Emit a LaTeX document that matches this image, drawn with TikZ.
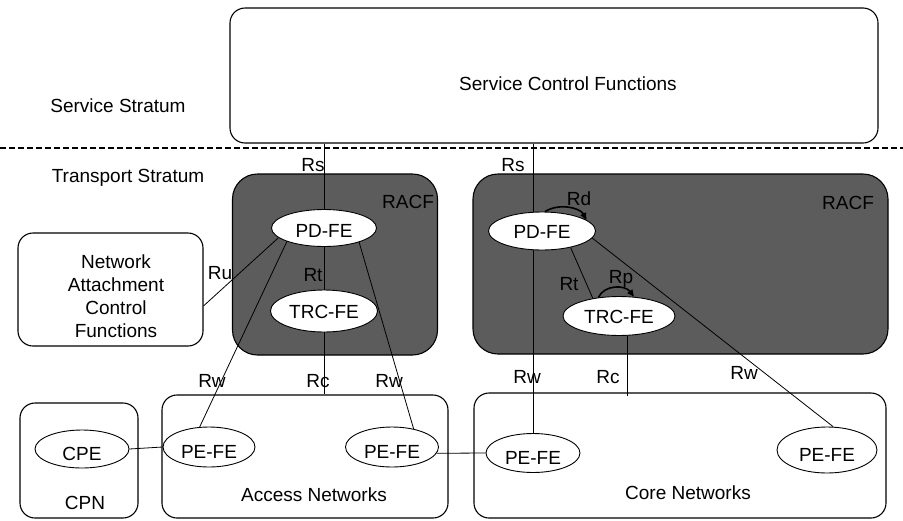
\documentclass[tikz,border=0pt]{standalone}
\usepackage{fontspec}
\setmainfont{Liberation Sans}
\usetikzlibrary{shapes.geometric,arrows.meta,calc}
\pgfdeclarelayer{back}
\pgfdeclarelayer{mid}
\pgfsetlayers{back,mid,main}
\definecolor{racfgray}{RGB}{92,92,92}
\begin{document}
\begin{tikzpicture}[x=1pt,y=-1pt,
  every node/.style={font=\fontsize{19}{23}\selectfont},
  lbl/.style={inner sep=0pt},
  box/.style={draw, line width=1.1pt, rounded corners=15pt, inner sep=0pt},
  racf/.style={draw, line width=1.1pt, fill=racfgray, rounded corners=25pt, inner sep=0pt},
  fe/.style={ellipse, draw, line width=0.9pt, fill=white, inner sep=0pt, text height=14pt, text depth=0pt},
  felow/.style={fe, text height=22pt},
  link/.style={line width=0.8pt},
  reflink/.style={line width=1.6pt, -{Triangle[length=7pt,width=6pt]}},
  stratum/.style={line width=1.8pt, dash pattern=on 6pt off 3pt}]
\useasboundingbox (0,0) rectangle (903,520);

% boxes
\node[box, minimum width=648pt, minimum height=135pt] (scf) at (554,75.5) {};
\node[box, minimum width=185pt, minimum height=113pt] (nacf) at (110.5,289.5) {};
\node[box, minimum width=118pt, minimum height=115pt] (cpn) at (79,460.5) {};
\node[box, minimum width=286pt, minimum height=123pt] (acc) at (305,456.5) {};
\node[box, minimum width=412pt, minimum height=125pt] (core) at (680,455.5) {};
\begin{pgfonlayer}{back}
\node[racf, minimum width=205pt, minimum height=181pt] (racfl) at (335,264.5) {};
\node[racf, minimum width=415pt, minimum height=180pt] (racfr) at (680.5,264) {};
\end{pgfonlayer}

% stratum separator
\coordinate (dl) at (0,148);
\coordinate (dr) at (903,148);
\draw[stratum] (dl) -- (dr);

% functional entities
\node[fe, text height=18pt, minimum width=105pt, minimum height=37pt] (pdl) at (324,228) {PD-FE};
\node[fe, minimum width=107pt, minimum height=42pt] (trcl) at (324,311) {TRC-FE};
\node[fe, minimum width=107pt, minimum height=38pt] (pdr) at (542,231) {PD-FE};
\node[fe, minimum width=112pt, minimum height=39pt] (trcr) at (619,316) {TRC-FE};
\node[felow, minimum width=94pt, minimum height=38pt] (cpe) at (82,449) {CPE};
\node[felow, minimum width=92pt, minimum height=40pt] (pe1) at (209,447) {PE-FE};
\node[felow, minimum width=93pt, minimum height=40pt] (pe2) at (392,447) {PE-FE};
\node[felow, minimum width=94pt, minimum height=39pt] (pe3) at (533,453) {PE-FE};
\node[felow, minimum width=100pt, minimum height=46pt] (pe4) at (827,450) {PE-FE};

% texts
\node[lbl] (lss) at (118,106) {Service Stratum};
\node[lbl] (lts) at (128,178) {Transport Stratum};
\node[lbl] (lscf) at (568,84) {Service Control Functions};
\node[lbl, align=center] (lnacf) at (116,296) {Network\\Attachment\\Control\\Functions};
\node[lbl] (lcpn) at (85,503) {CPN};
\node[lbl] (lacc) at (314,495) {Access Networks};
\node[lbl] (lcore) at (688,493) {Core Networks};
\node[lbl] (lracfl) at (408,202) {RACF};
\node[lbl] (lracfr) at (848,203) {RACF};
\node[lbl] (lrsl) at (313,165) {Rs};
\node[lbl] (lrsr) at (513,165) {Rs};
\node[lbl] (lrtl) at (313,275) {Rt};
\node[lbl] (lrtr) at (569,284) {Rt};
\node[lbl] (lrd) at (579,199) {Rd};
\node[lbl] (lrp) at (621,279) {Rp};
\node[lbl] (lru) at (220,273) {Ru};
\node[lbl] (lrw1) at (212,381) {Rw};
\node[lbl] (lrc1) at (318,381) {Rc};
\node[lbl] (lrw2) at (389,381) {Rw};
\node[lbl] (lrw3) at (527,377) {Rw};
\node[lbl] (lrc2) at (608,377) {Rc};
\node[lbl] (lrw4) at (744,373) {Rw};

% connectors (behind the entities)
\coordinate (rcend) at ($(core.north -| trcr)+(8,4)$);
\begin{pgfonlayer}{mid}
\draw[link] (scf.south -| pdl) -- (pdl);
\draw[link] (pdl) -- (trcl);
\draw[link] (trcl) -- (acc.north -| trcl);
\draw[link] (nacf.-10) -- (pdl.192);
\draw[link] (pdl.200) -- (pe1.115);
\draw[link] (pdl.-22) -- (pe2.40);
\draw[link] (cpe.east) -- (pe1.west);
\draw[link] (pe2.-8) -- (pe3.west);
\draw[link] (scf.south -| pe3) -- (pe3 |- pdr);
\draw[link] (pe3 |- pdr) -- (pe3);
\draw[link] (pdr.-30) -- (trcr.146);
\draw[link] (pdr.-8) -- (pe4.75);
\draw[link] ($(trcr)+(8,0)$) -- (rcend);
\end{pgfonlayer}

% reference points with arrowheads
\draw[reflink] (pdr.81) .. controls +(14,-9) and +(-6,-12) .. (pdr.14);
\draw[reflink] (trcr.138) .. controls +(6,-13) and +(-9,-12) .. (trcr.52);
\end{tikzpicture}
\end{document}
